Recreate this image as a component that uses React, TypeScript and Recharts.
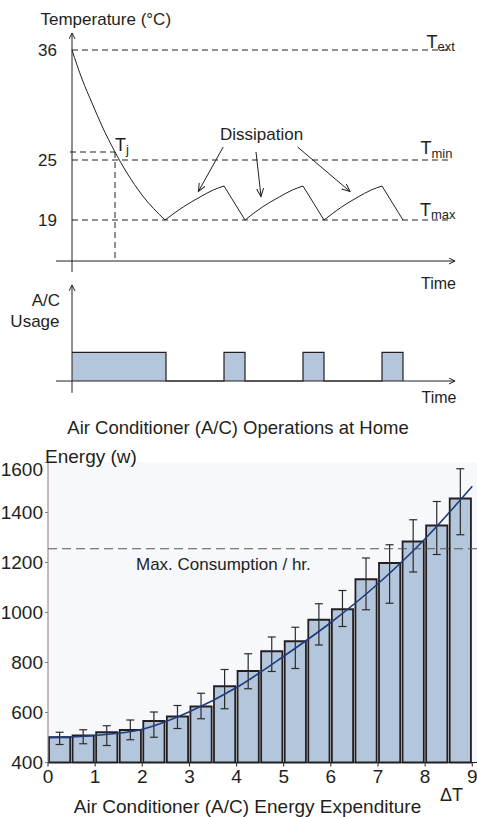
import React from 'react';
import {
  ComposedChart, Line, Bar, Area, ErrorBar, XAxis, YAxis, ReferenceLine, CartesianGrid,
} from 'recharts';

const INK = '#231f20';
const FILL = '#b3c6dc';
const FONT = '"Liberation Sans", Arial, Helvetica, sans-serif';

// temperature schematic (time in arbitrary units, temp in °C)
const levelTemps = [36, 25, 19];
const levelEnd = 94.5;
const coolTime = [0, 2.5, 5, 7.5, 10.75, 13.75, 17.5, 23.25];
const coolTemp = [36, 33.1, 30.7, 28.4, 25.8, 23.7, 21.5, 19.0];
const riseTime = [
  [23.25, 27.8, 32, 35.3, 38],
  [43.25, 47.6, 51.8, 55.1, 57.75],
  [63, 67.4, 71.5, 74.8, 77.5],
];
const riseTemp = [
  [19, 20.3, 21.3, 22.0, 22.4],
  [19, 20.3, 21.3, 22.0, 22.4],
  [19, 20.3, 21.3, 22.0, 22.4],
];
const dropTime = [[38, 43.25], [57.75, 63], [77.5, 82.75]];
const dropTemp = [22.4, 19];
const tjTime = 10.75;
const tjTemp = 25.8;
const arrowFrom = [[37.8, 26.3], [46, 25.8], [56.4, 26.3]];
const arrowTo = [[31.6, 21.85], [47.25, 21.35], [69.5, 21.85]];

// A/C usage blocks
const usageStart = [0, 38, 57.75, 77.5];
const usageEnd = [23.5, 43.25, 63, 82.75];

// energy vs delta T
const dtBins = [0.25, 0.75, 1.25, 1.75, 2.25, 2.75, 3.25, 3.75, 4.25, 4.75, 5.25, 5.75, 6.25, 6.75, 7.25, 7.75, 8.25, 8.75];
const energyMean = [501, 508, 521, 530, 566, 584, 624, 705, 766, 845, 885, 971, 1013, 1133, 1198, 1284, 1348, 1456];
const energyLow = [472, 475, 468, 491, 501, 536, 575, 615, 695, 764, 776, 870, 944, 1011, 1037, 1162, 1232, 1311];
const energyHigh = [521, 531, 547, 570, 602, 628, 677, 772, 835, 902, 941, 1035, 1088, 1218, 1271, 1371, 1444, 1575];
const fitDt = [0, 1, 2, 3, 4, 5, 6, 7, 8, 9];
const fitEnergy = [500, 508, 533, 603, 700, 825, 960, 1115, 1295, 1505];
const dtTicks = [0, 1, 2, 3, 4, 5, 6, 7, 8, 9];
const energyTicks = [400, 600, 800, 1000, 1200, 1400, 1600];
const maxConsumption = 1255;

const coolRows = coolTime.map((t, i) => ({ t, temp: coolTemp[i] }));
const riseRows = riseTime.map((ts, c) => ts.map((t, i) => ({ t, temp: riseTemp[c][i] })));
const dropRows = dropTime.map((ts) => ts.map((t, i) => ({ t, temp: dropTemp[i] })));
const usageRows = usageStart.flatMap((s, i) => [{ t: s, u: 1 }, { t: usageEnd[i], u: 0 }]);
const barRows = dtBins.map((x, i) => ({
  x, e: energyMean[i], err: [energyMean[i] - energyLow[i], energyHigh[i] - energyMean[i]],
}));
const fitRows = fitDt.map((x, i) => ({ x, e: fitEnergy[i] }));

const X_MAX = 9.1;
const BAR_PX = ((477 - 48) / X_MAX) * 0.5;

const EnergyTick = (props: any) => {
  const { x, y, payload } = props;
  const shift = payload.value === energyTicks[energyTicks.length - 1] ? 7 : 0;
  return (
    <text x={x} y={y + shift} dy="0.355em" textAnchor="end" fill={INK} fontSize={19}>
      {payload.value}
    </text>
  );
};

const line = { stroke: INK, strokeWidth: 1 };

const TempChart = () => (
  <ComposedChart width={477} height={280} margin={{ top: 35, right: 21, bottom: 19, left: 0 }}>
    <XAxis type="number" dataKey="t" domain={[0, 96]} hide />
    <YAxis
      type="number" domain={[14.9, 37.5]} ticks={levelTemps} width={72}
      axisLine={false} tickLine={false} tickSize={6} tickMargin={9}
      tick={{ fill: INK, fontSize: 17 }}
    />
    {levelTemps.map((v) => (
      <ReferenceLine key={v} segment={[{ x: 0, y: v }, { x: levelEnd, y: v }]} {...line} strokeDasharray="6 4" ifOverflow="visible" />
    ))}
    <ReferenceLine segment={[{ x: -0.5, y: tjTemp }, { x: tjTime, y: tjTemp }]} {...line} strokeDasharray="6 4" ifOverflow="visible" />
    <ReferenceLine segment={[{ x: tjTime, y: tjTemp }, { x: tjTime, y: 14.9 }]} {...line} strokeDasharray="6 4" ifOverflow="visible" />
    <ReferenceLine segment={[{ x: 0, y: 13.8 }, { x: 0, y: 37.7 }]} {...line} markerEnd="url(#axArrow)" ifOverflow="visible" />
    <ReferenceLine segment={[{ x: -4, y: 14.9 }, { x: 95.75, y: 14.9 }]} {...line} markerEnd="url(#axArrow)" ifOverflow="visible" />
    {arrowFrom.map((p, i) => (
      <ReferenceLine
        key={'a' + i}
        segment={[{ x: p[0], y: p[1] }, { x: arrowTo[i][0], y: arrowTo[i][1] }]}
        {...line} markerEnd="url(#dArrow)" ifOverflow="visible"
      />
    ))}
    <Line data={coolRows} dataKey="temp" type="monotone" dot={false} {...line} isAnimationActive={false} />
    {riseRows.map((rows, i) => (
      <Line key={'r' + i} data={rows} dataKey="temp" type="monotone" dot={false} {...line} isAnimationActive={false} />
    ))}
    {dropRows.map((rows, i) => (
      <Line key={'d' + i} data={rows} dataKey="temp" type="linear" dot={false} {...line} isAnimationActive={false} />
    ))}
  </ComposedChart>
);

const UsageChart = () => (
  <ComposedChart width={477} height={130} data={usageRows} margin={{ top: 15, right: 21, bottom: 19, left: 72 }}>
    <XAxis type="number" dataKey="t" domain={[0, 96]} hide />
    <YAxis type="number" domain={[0, 3.345]} hide />
    <Area
      dataKey="u" type="stepAfter" baseValue={0} fill={FILL} fillOpacity={1}
      stroke={INK} strokeWidth={1.2} dot={false} activeDot={false} isAnimationActive={false}
    />
    <ReferenceLine segment={[{ x: 0, y: -0.41 }, { x: 0, y: 3.345 }]} {...line} markerEnd="url(#axArrow)" ifOverflow="visible" />
    <ReferenceLine segment={[{ x: -4, y: 0 }, { x: 95.75, y: 0 }]} {...line} markerEnd="url(#axArrow)" ifOverflow="visible" />
  </ComposedChart>
);

const EnergyChart = () => (
  <ComposedChart width={477} height={377} data={barRows} margin={{ top: 22.5, right: 0, bottom: 24.5, left: 0 }}>
    <CartesianGrid horizontal={false} vertical={false} fill="#f6f8fc" />
    <XAxis
      type="number" dataKey="x" domain={[0, X_MAX]} ticks={dtTicks} height={30}
      tickSize={4} tickMargin={3} stroke={INK} tick={{ fill: INK, fontSize: 19 }}
    />
    <XAxis xAxisId="fit" type="number" dataKey="x" domain={[0, X_MAX]} hide />
    <YAxis
      type="number" domain={[400, 1600]} ticks={energyTicks} width={48}
      tickSize={3} tickMargin={2} stroke="#8c7b75" tick={<EnergyTick />}
    />
    <Bar dataKey="e" barSize={BAR_PX} fill={FILL} stroke={INK} strokeWidth={1.8} isAnimationActive={false}>
      <ErrorBar dataKey="err" width={4} stroke="#2b2b2b" strokeWidth={1.2} direction="y" />
    </Bar>
    <Line xAxisId="fit" data={fitRows} dataKey="e" type="monotone" stroke="#1f3d7a" strokeWidth={1.6} dot={false} isAnimationActive={false} />
    <ReferenceLine y={maxConsumption} stroke="#555" strokeDasharray="9 5" />
  </ComposedChart>
);

const Sub = ({ x, y, main, sub, dy }: any) => (
  <text x={x} y={y} fontSize={18} fill={INK}>
    {main}
    <tspan fontSize={13} dy={dy}>{sub}</tspan>
  </text>
);

export default function App() {
  return (
    <div style={{ position: 'absolute', left: 0, top: 0, width: 477, height: 817, background: '#fff', fontFamily: FONT }}>
      <div style={{ position: 'absolute', left: 0, top: 0 }}><TempChart /></div>
      <div style={{ position: 'absolute', left: 0, top: 270 }}><UsageChart /></div>
      <div style={{ position: 'absolute', left: 0, top: 440 }}><EnergyChart /></div>
      <svg width={477} height={817} style={{ position: 'absolute', left: 0, top: 0, pointerEvents: 'none' }}>
        <defs>
          <marker id="axArrow" markerWidth="10" markerHeight="10" refX="6" refY="3.5" orient="auto" markerUnits="userSpaceOnUse">
            <path d="M0,0.5 L6,3.5 L0,6.5" fill="none" stroke={INK} strokeWidth="1" />
          </marker>
          <marker id="dArrow" markerWidth="12" markerHeight="12" refX="8" refY="3.5" orient="auto" markerUnits="userSpaceOnUse">
            <path d="M0,0 L8,3.5 L0,7" fill="none" stroke={INK} strokeWidth="1" />
          </marker>
        </defs>
        <g fill={INK}>
          <text x={40.5} y={25} fontSize={17}>Temperature (°C)</text>
          <Sub x={426.5} y={48} main="T" sub="ext" dy={3} />
          <Sub x={420.5} y={154} main="T" sub="min" dy={4} />
          <Sub x={420} y={215.5} main="T" sub="max" dy={3} />
          <Sub x={115} y={150.5} main="T" sub="j" dy={3} />
          <text x={220} y={140} fontSize={17}>Dissipation</text>
          <text x={421} y={289} fontSize={16}>Time</text>
          <text x={60} y={306} fontSize={17} textAnchor="end">A/C</text>
          <text x={59.5} y={327} fontSize={17} textAnchor="end">Usage</text>
          <text x={421.5} y={403} fontSize={16}>Time</text>
          <text x={238} y={434} fontSize={18.5} textAnchor="middle">Air Conditioner (A/C) Operations at Home</text>
          <text x={45} y={463} fontSize={19}>Energy (w)</text>
          <text x={136} y={570} fontSize={17}>Max. Consumption / hr.</text>
          <text x={440} y={801} fontSize={18}>ΔT</text>
          <text x={247.5} y={813} fontSize={19} textAnchor="middle">Air Conditioner (A/C) Energy Expenditure</text>
        </g>
      </svg>
    </div>
  );
}
